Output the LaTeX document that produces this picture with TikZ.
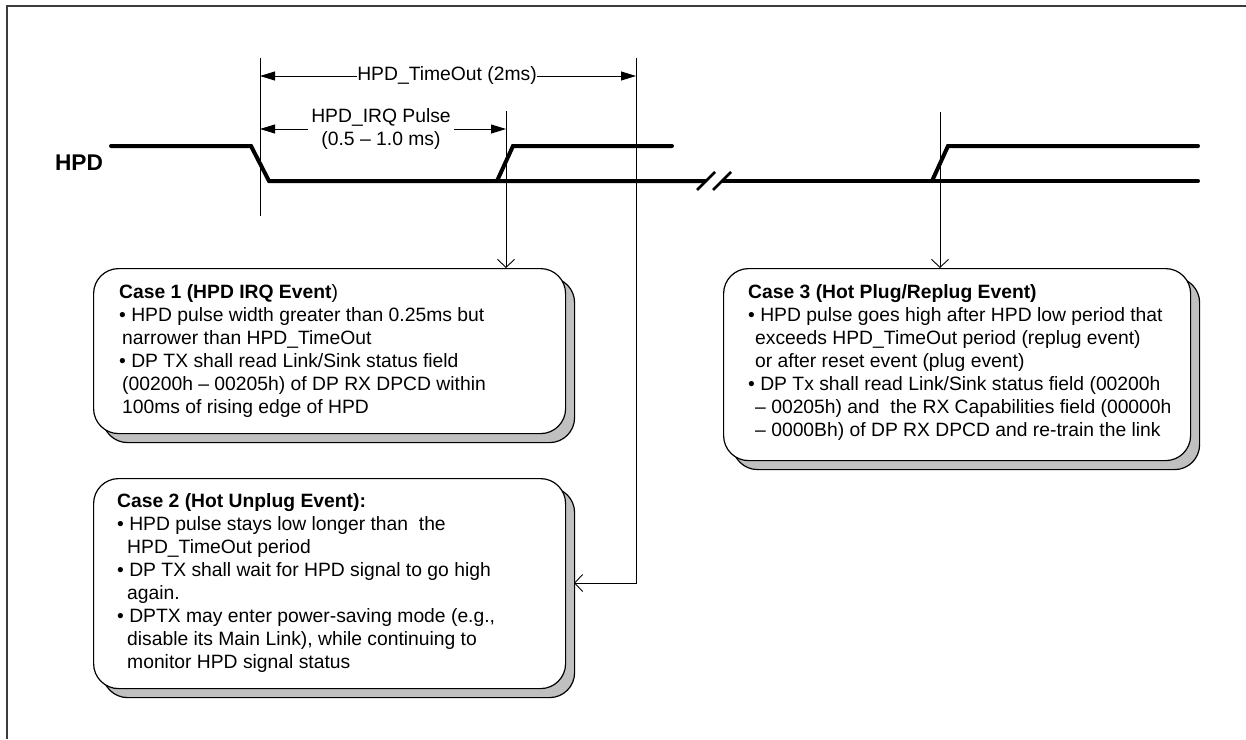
\documentclass[tikz,border=0pt]{standalone}
\usepackage{fontspec}
\setmainfont{Liberation Sans}
\usetikzlibrary{arrows.meta,shadows}
\definecolor{shadowgray}{RGB}{192,192,192}
\definecolor{framegray}{RGB}{60,60,60}
\begin{document}
\begin{tikzpicture}[x=1pt,y=-1pt,
  sig/.style={line width=4pt,line cap=round},
  thinline/.style={line width=1pt},
  dimarrow/.style={line width=0.9pt,-{Triangle[length=15pt,width=9pt]}},
  openarr/.style={line width=0.9pt,-{Straight Barb[length=8pt,width=17pt]}},
  casebox/.style={draw, line width=1.2pt, fill=white, rounded corners=25pt, anchor=north west, inner sep=0pt,
     general shadow={shadow xshift=9pt, shadow yshift=-9pt, fill=shadowgray, draw=black, line width=1.2pt}},
  txt/.style={font=\fontsize{19.3}{23}\selectfont, inner sep=0pt},
  boxtxt/.style={txt, anchor=base west}
]
\useasboundingbox (0,0) rectangle (1246,739);
% frame
\draw[framegray, line width=2pt] (7,739) -- (7,6) -- (1246,6);

% boxes
\node[casebox, minimum width=472pt, minimum height=165pt] (box1) at (93,268) {};
\node[casebox, minimum width=472pt, minimum height=210pt] (box2) at (93,478) {};
\node[casebox, minimum width=467pt, minimum height=192pt] (box3) at (723,268) {};

% box texts
\node[boxtxt] (t1) at (119,298) {\begin{tabular}[t]{@{}l@{}}
\textbf{Case 1 (HPD IRQ Event})\\
\textbullet\ HPD pulse width greater than 0.25ms but\\
\hspace*{3pt}narrower than HPD\_TimeOut\\
\textbullet\ DP TX shall read Link/Sink status field\\
\hspace*{3pt}(00200h -- 00205h) of DP RX DPCD within\\
\hspace*{3pt}100ms of rising edge of HPD
\end{tabular}};

\node[boxtxt] (t2) at (117,507) {\begin{tabular}[t]{@{}l@{}}
\textbf{Case 2 (Hot Unplug Event):}\\
\textbullet\ HPD pulse stays low longer than \ the\\
\hspace*{10pt}HPD\_TimeOut period\\
\textbullet\ DP TX shall wait for HPD signal to go high\\
\hspace*{10pt}again.\\
\textbullet\ DPTX may enter power-saving mode (e.g.,\\
\hspace*{10pt}disable its Main Link), while continuing to\\
\hspace*{10pt}monitor HPD signal status
\end{tabular}};

\node[boxtxt] (t3) at (748,298) {\begin{tabular}[t]{@{}l@{}}
\textbf{Case 3 (Hot Plug/Replug Event)}\\
\textbullet\ HPD pulse goes high after HPD low period that\\
\hspace*{7pt}exceeds HPD\_TimeOut period (replug event)\\
\hspace*{7pt}or after reset event (plug event)\\
\textbullet\ DP Tx shall read Link/Sink status field (00200h\\
\hspace*{7pt}-- 00205h) and \ the RX Capabilities field (00000h\\
\hspace*{7pt}-- 0000Bh) of DP RX DPCD and re-train the link
\end{tabular}};

% HPD label
\node[font=\bfseries\fontsize{22.7}{26}\selectfont, inner sep=0pt] (hpd) at (79,163) {HPD};

% waveform
\draw[sig] (111,146) -- (251,146) -- (269,181) -- (705,181);
\draw[sig] (723,181) -- (1198,181);
\draw[sig] (497,181) -- (513,146) -- (672,146);
\draw[sig] (932,181) -- (948,146) -- (1198,146);
\draw[line width=2.5pt] (697,190) -- (715,172);
\draw[line width=2.5pt] (713,190) -- (731,172);

% reference coordinates
\coordinate (v1top) at (260,58);
\coordinate (v1bot) at (260,216);
\coordinate (c1top) at (506,111);
\coordinate (c2top) at (636,58);
\coordinate (c2tip) at (574,583);
\coordinate (c3top) at (940,112);

% vertical lines and connectors
\draw[thinline] (v1top) -- (v1bot);
\draw[openarr] (c1top) -- (c1top |- box1.north);
\draw[openarr] (c2top) |- (c2tip);
\draw[openarr] (c3top) -- (c3top |- box3.north);

% dimension labels
\node[txt] (tol) at (447,76) {HPD\_TimeOut (2ms)};
\draw[dimarrow] (tol.west) -- (tol.west -| v1top);
\draw[dimarrow] (tol.east) -- (tol.east -| c2top);

\node[txt, align=center, inner xsep=3pt] (irq) at (381,129) {HPD\_IRQ Pulse\\(0.5 -- 1.0 ms)};
\draw[dimarrow] (irq.west) -- (irq.west -| v1top);
\draw[dimarrow] (irq.east) -- (irq.east -| c1top);
\end{tikzpicture}
\end{document}
